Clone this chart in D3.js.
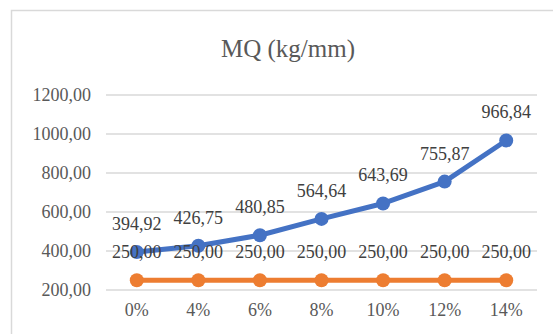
<!DOCTYPE html>
<html>
<head>
<meta charset="utf-8">
<script src="https://cdn.jsdelivr.net/npm/d3@7"></script>
<style>
  html, body { margin: 0; padding: 0; background: #fff; }
  svg { display: block; }
</style>
</head>
<body>
<svg id="chart" width="553" height="334" font-family="Liberation Serif"></svg>
<script>
// Chart data
const categories = ["0%", "4%", "6%", "8%", "10%", "12%", "14%"];
const mqValues = [394.92, 426.75, 480.85, 564.64, 643.69, 755.87, 966.84];
const limitValues = [250, 250, 250, 250, 250, 250, 250];
const yTicks = [200, 400, 600, 800, 1000, 1200];
const titleText = "MQ (kg/mm)";

const FONT = "Liberation Serif";
const svg = d3.select("#chart");

// Outer chart frame
svg.append("rect")
  .attr("x", 11.5).attr("y", 10.5)
  .attr("width", 560).attr("height", 340)
  .attr("fill", "#fff")
  .attr("stroke", "#d9d9d9").attr("stroke-width", 1.5);

const plot = { left: 106, right: 537, top: 95, bottom: 290 };

const x = d3.scaleBand().domain(categories).range([plot.left, plot.right]);
const y = d3.scaleLinear().domain([200, 1200]).range([plot.bottom, plot.top]);

const fmt = v => d3.format(".2f")(v).replace(".", ",");

// Title
svg.append("text")
  .attr("x", 288).attr("y", 57)
  .attr("text-anchor", "middle")
  .attr("font-family", FONT)
  .attr("font-size", 25)
  .attr("fill", "#595959")
  .text(titleText);

// Gridlines
svg.append("g").selectAll("line").data(yTicks).join("line")
  .attr("x1", plot.left).attr("x2", plot.right)
  .attr("y1", d => y(d)).attr("y2", d => y(d))
  .attr("stroke", "#d9d9d9").attr("stroke-width", 1.5);

// Y axis labels
const yAxis = d3.axisLeft(y).tickValues(yTicks).tickFormat(fmt).tickSize(0).tickPadding(0);
const gy = svg.append("g").attr("transform", "translate(91,0)").call(yAxis)
  .attr("font-family", FONT).attr("font-size", 18);
gy.select(".domain").remove();
gy.selectAll("text").attr("fill", "#595959");

// X axis labels
const xAxis = d3.axisBottom(x).tickSize(0).tickPadding(0);
const gx = svg.append("g").attr("transform", "translate(0,303)").call(xAxis)
  .attr("font-family", FONT).attr("font-size", 18);
gx.select(".domain").remove();
gx.selectAll("text").attr("fill", "#595959");

const cx = d => x(d) + x.bandwidth() / 2;

function drawSeries(values, color) {
  const pts = categories.map((c, i) => [cx(c), y(values[i]), values[i]]);
  svg.append("path")
    .datum(pts)
    .attr("fill", "none")
    .attr("stroke", color)
    .attr("stroke-width", 5)
    .attr("stroke-linejoin", "round")
    .attr("d", d3.line().x(d => d[0]).y(d => d[1]));
  svg.append("g").selectAll("circle").data(pts).join("circle")
    .attr("cx", d => d[0]).attr("cy", d => d[1])
    .attr("r", 7)
    .attr("fill", color);
  return pts;
}

const limitPts = drawSeries(limitValues, "#ED7D31");
const mqPts = drawSeries(mqValues, "#4472C4");

// Data labels
function drawLabels(pts) {
  svg.append("g").selectAll("text").data(pts).join("text")
    .attr("x", d => d[0]).attr("y", d => d[1] - 22)
    .attr("text-anchor", "middle")
    .attr("font-family", FONT)
    .attr("font-size", 18)
    .attr("fill", "#404040")
    .text(d => fmt(d[2]));
}
drawLabels(mqPts);
drawLabels(limitPts);
</script>
</body>
</html>
